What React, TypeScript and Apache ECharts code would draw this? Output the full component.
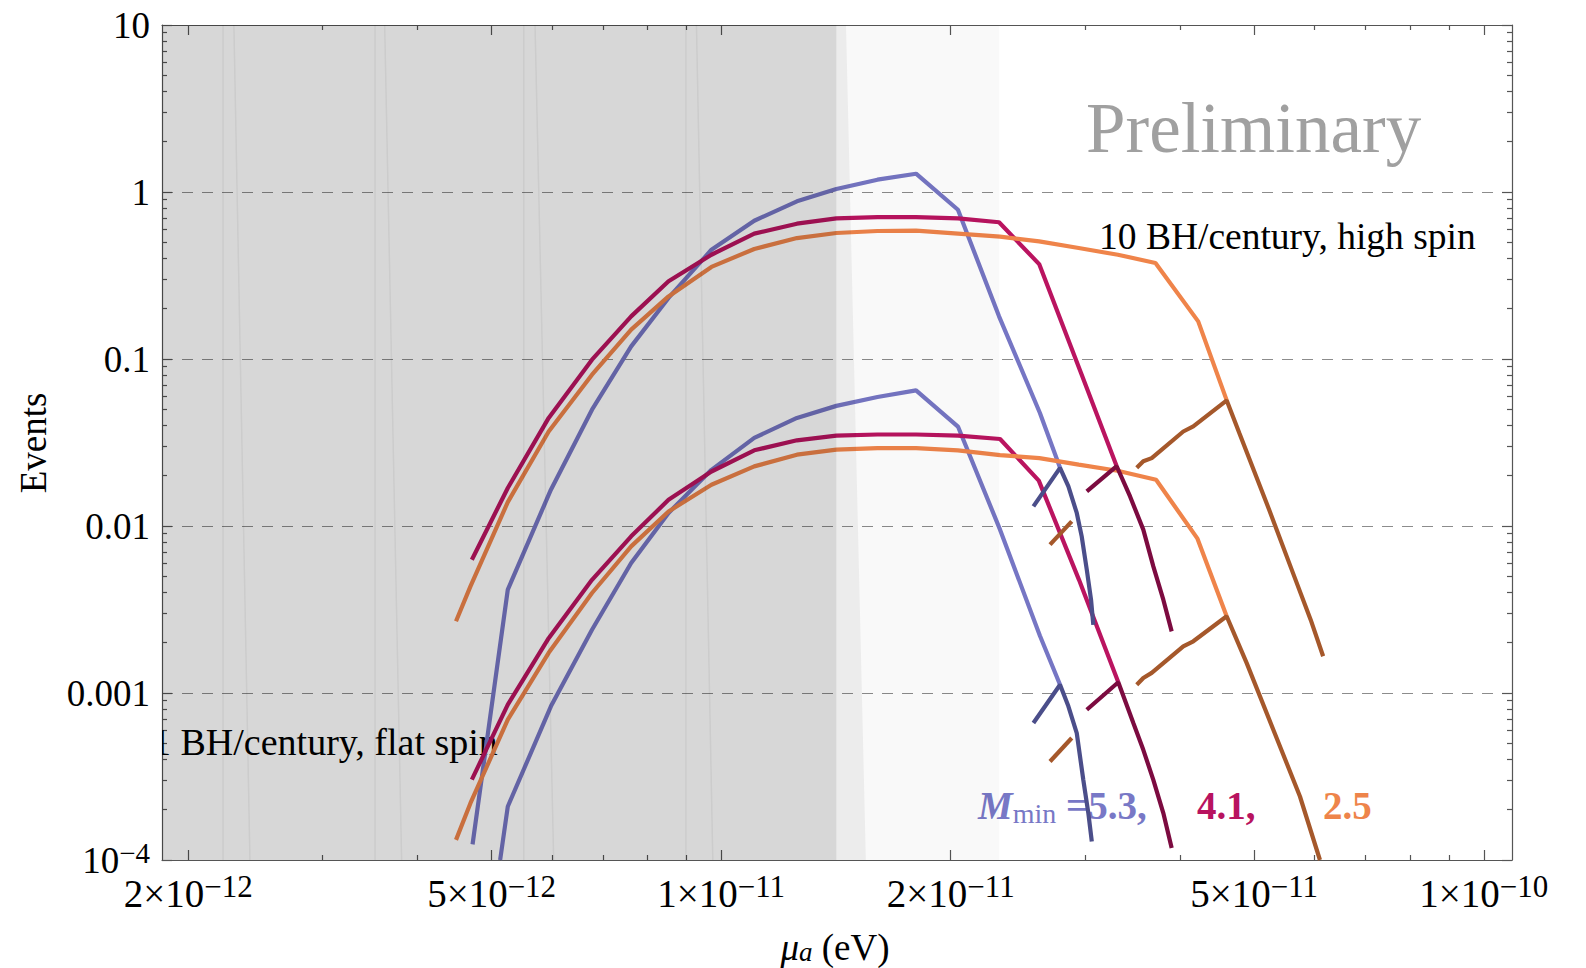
import React, { useEffect, useRef } from "react";
import * as echarts from "echarts";

const FONT = '"Liberation Serif", "Times New Roman", serif';

// ---- axes (eV, events) ----
const xRange = [1.848e-12, 1.089e-10];
const yRange = [1e-4, 10];
const xMajorTicks = [2e-12, 5e-12, 1e-11, 2e-11, 5e-11, 1e-10];
const xMinorTicks = [3e-12, 4e-12, 6e-12, 7e-12, 8e-12, 9e-12, 3e-11, 4e-11, 6e-11, 7e-11, 8e-11, 9e-11];
const yMinorTicks = [
  2e-4, 3e-4, 4e-4, 5e-4, 6e-4, 7e-4, 8e-4, 9e-4,
  2e-3, 3e-3, 4e-3, 5e-3, 6e-3, 7e-3, 8e-3, 9e-3,
  2e-2, 3e-2, 4e-2, 5e-2, 6e-2, 7e-2, 8e-2, 9e-2,
  0.2, 0.3, 0.4, 0.5, 0.6, 0.7, 0.8, 0.9,
  2, 3, 4, 5, 6, 7, 8, 9,
];
const yTickLabels: Record<string, string> = {
  "1": "{n|10}",
  "0": "{n|1}",
  "-1": "{n|0.1}",
  "-2": "{n|0.01}",
  "-3": "{n|0.001}",
  "-4": "{n|10}{sup|\u22124}",
};

// ---- shaded (excluded) regions, in eV ----
const darkRegionEdge = 1.416e-11;
const bandEdgeTop = 1.458e-11;
const bandEdgeBottom = 1.548e-11;
const lightRegionEdge = 2.316e-11;
const seamStraight = [2.222e-12, 3.516e-12, 5.51e-12, 8.99e-12];
const seamSlantTop = [2.296e-12, 3.62e-12, 5.7e-12, 9.28e-12];
const seamSlantBottom = [2.41e-12, 3.81e-12, 6.03e-12, 9.75e-12];

// ---- curves: [mu_a (eV), events] ----
// 10 BH/century, high spin
const highBlue = [
  [4.72e-12, 1.24e-4], [5.25e-12, 4.16e-3], [5.98e-12, 0.0165], [6.77e-12, 0.0497], [7.62e-12, 0.119],
  [8.53e-12, 0.232], [9.71e-12, 0.451], [1.105e-11, 0.673], [1.257e-11, 0.879], [1.416e-11, 1.042],
  [1.603e-11, 1.185], [1.801e-11, 1.287], [2.044e-11, 0.783], [2.314e-11, 0.18], [2.618e-11, 0.0475],
  [2.782e-11, 0.0223],
];
const highBlueDark = [
  [2.567e-11, 0.0131], [2.782e-11, 0.0223], [2.853e-11, 0.01726], [2.926e-11, 0.01197],
  [2.97e-11, 0.00867], [3.016e-11, 0.00547], [3.055e-11, 0.00362], [3.076e-11, 0.00256],
];
const highMagenta = [
  [4.71e-12, 0.00628], [5.25e-12, 0.0169], [5.94e-12, 0.0444], [6.77e-12, 0.0991], [7.62e-12, 0.18],
  [8.53e-12, 0.292], [9.71e-12, 0.421], [1.105e-11, 0.563], [1.257e-11, 0.646], [1.416e-11, 0.695],
  [1.603e-11, 0.708], [1.801e-11, 0.708], [2.044e-11, 0.695], [2.314e-11, 0.659], [2.612e-11, 0.37],
  [2.964e-11, 0.0824], [3.301e-11, 0.0228],
];
const highMagentaDark = [
  [3.016e-11, 0.0161], [3.301e-11, 0.0228], [3.437e-11, 0.01503], [3.577e-11, 0.00951],
  [3.687e-11, 0.00573], [3.8e-11, 0.00362], [3.897e-11, 0.00234],
];
const highOrange = [
  [4.49e-12, 0.00269], [4.69e-12, 0.00435], [5.25e-12, 0.0139], [5.94e-12, 0.0368], [6.77e-12, 0.0805],
  [7.62e-12, 0.15], [8.53e-12, 0.237], [9.71e-12, 0.356], [1.105e-11, 0.456], [1.257e-11, 0.53],
  [1.416e-11, 0.568], [1.603e-11, 0.584], [1.801e-11, 0.587], [2.044e-11, 0.563], [2.321e-11, 0.54],
  [2.612e-11, 0.506], [2.943e-11, 0.462], [3.313e-11, 0.421], [3.711e-11, 0.376], [4.222e-11, 0.168],
  [4.602e-11, 0.0565],
];
const highOrangeDarkStub = [[2.699e-11, 0.00773], [2.882e-11, 0.01065]];
const highOrangeDark = [
  [3.507e-11, 0.0223], [3.577e-11, 0.0244], [3.669e-11, 0.0255], [4.036e-11, 0.0368], [4.16e-11, 0.0395],
  [4.602e-11, 0.0565], [4.78e-11, 0.0361], [5.211e-11, 0.0131], [5.62e-11, 0.00524], [5.929e-11, 0.00275],
  [6.157e-11, 0.00166],
];
// flat spin
const lowBlue = [
  [5.13e-12, 1.0e-4], [5.25e-12, 2.09e-4], [5.98e-12, 8.32e-4], [6.77e-12, 2.39e-3], [7.62e-12, 6.0e-3],
  [8.53e-12, 0.01197], [9.71e-12, 0.0217], [1.105e-11, 0.0337], [1.257e-11, 0.0444], [1.416e-11, 0.0524],
  [1.603e-11, 0.0592], [1.801e-11, 0.0649], [2.044e-11, 0.0394], [2.321e-11, 0.00951], [2.618e-11, 0.0022],
  [2.782e-11, 0.00112],
];
const lowBlueDark = [
  [2.567e-11, 6.61e-4], [2.782e-11, 1.12e-3], [2.853e-11, 8.32e-4], [2.926e-11, 5.75e-4],
  [2.984e-11, 3.03e-4], [3.03e-11, 1.91e-4], [3.062e-11, 1.29e-4],
];
const lowMagenta = [
  [4.71e-12, 3.03e-4], [5.25e-12, 8.51e-4], [5.94e-12, 2.13e-3], [6.77e-12, 4.76e-3], [7.62e-12, 8.67e-3],
  [8.53e-12, 0.01435], [9.71e-12, 0.0212], [1.105e-11, 0.0284], [1.257e-11, 0.0326], [1.416e-11, 0.0348],
  [1.603e-11, 0.0353], [1.801e-11, 0.0353], [2.044e-11, 0.0348], [2.321e-11, 0.0332], [2.609e-11, 0.0187],
  [2.946e-11, 0.00476], [3.317e-11, 0.00116],
];
const lowMagentaDark = [
  [3.016e-11, 7.94e-4], [3.317e-11, 1.16e-3], [3.471e-11, 6.61e-4], [3.577e-11, 4.57e-4],
  [3.687e-11, 3.02e-4], [3.8e-11, 1.91e-4], [3.897e-11, 1.18e-4],
];
const lowOrange = [
  [4.49e-12, 1.32e-4], [4.69e-12, 2.19e-4], [5.25e-12, 6.92e-4], [5.94e-12, 1.74e-3], [6.77e-12, 3.97e-3],
  [7.62e-12, 7.55e-3], [8.53e-12, 0.01222], [9.71e-12, 0.01766], [1.105e-11, 0.02275], [1.257e-11, 0.02673],
  [1.416e-11, 0.02864], [1.603e-11, 0.0293], [1.801e-11, 0.0293], [2.044e-11, 0.0284], [2.321e-11, 0.0266],
  [2.614e-11, 0.0255], [2.943e-11, 0.0233], [3.309e-11, 0.02143], [3.718e-11, 0.01892], [4.213e-11, 0.0084],
  [4.601e-11, 0.00288],
];
const lowOrangeDarkStub = [[2.699e-11, 3.89e-4], [2.882e-11, 5.38e-4]];
const lowOrangeDark = [
  [3.507e-11, 1.12e-3], [3.577e-11, 1.23e-3], [3.669e-11, 1.32e-3], [4.036e-11, 1.9e-3], [4.16e-11, 2.04e-3],
  [4.601e-11, 2.88e-3], [4.888e-11, 1.51e-3], [5.297e-11, 6.03e-4], [5.741e-11, 2.4e-4], [6.098e-11, 1.0e-4],
];

const C_BLUE = "#7676c4";
const C_NAVY = "#4b4e8a";
const C_MAG = "#ba1460";
const C_MAROON = "#7c0b40";
const C_ORANGE = "#ef844a";
const C_BROWN = "#a5582b";

const curves = [
  { data: highBlue, color: C_BLUE },
  { data: highMagenta, color: C_MAG },
  { data: highOrange, color: C_ORANGE },
  { data: lowBlue, color: C_BLUE },
  { data: lowMagenta, color: C_MAG },
  { data: lowOrange, color: C_ORANGE },
  { data: highBlueDark, color: C_NAVY },
  { data: highMagentaDark, color: C_MAROON },
  { data: highOrangeDarkStub, color: C_BROWN },
  { data: highOrangeDark, color: C_BROWN },
  { data: lowBlueDark, color: C_NAVY },
  { data: lowMagentaDark, color: C_MAROON },
  { data: lowOrangeDarkStub, color: C_BROWN },
  { data: lowOrangeDark, color: C_BROWN },
];

const lg = Math.log10;
const FRAME = "#555555";

const tickRich = {
  n: { fontFamily: FONT, fontSize: 39, color: "#000", lineHeight: 44 },
  sup: { fontFamily: FONT, fontSize: 31, color: "#000", lineHeight: 28, verticalAlign: "top" },
};

function makeXAxis(position: string, major: boolean, labels: boolean) {
  return {
    type: "value",
    position,
    min: lg(xRange[0]),
    max: lg(xRange[1]),
    axisLine: { show: major, onZero: false, lineStyle: { color: FRAME, width: 1.2 } },
    axisTick: {
      show: true,
      inside: true,
      length: major ? 10 : 5,
      customValues: (major ? xMajorTicks : xMinorTicks).map(lg),
      lineStyle: { color: FRAME, width: 1.2 },
    },
    axisLabel: labels
      ? {
          show: true,
          customValues: xMajorTicks.map(lg),
          margin: 11,
          color: "#000",
          fontFamily: FONT,
          fontSize: 39,
          formatter: (v: number) => {
            const e = Math.floor(v + 1e-6);
            const m = Math.round(Math.pow(10, v - e));
            return `{n|${m}\u00d710}{sup|\u2212${Math.abs(e)}}`;
          },
          rich: tickRich,
        }
      : { show: false },
    splitLine: { show: false },
  };
}

function makeYAxis(position: string, major: boolean, labels: boolean) {
  return {
    type: "value",
    position,
    min: lg(yRange[0]),
    max: lg(yRange[1]),
    interval: 1,
    axisLine: { show: major, onZero: false, lineStyle: { color: FRAME, width: 1.2 } },
    axisTick: major
      ? { show: true, inside: true, length: 10, lineStyle: { color: FRAME, width: 1.2 } }
      : { show: true, inside: true, length: 5, customValues: yMinorTicks.map(lg), lineStyle: { color: FRAME, width: 1.2 } },
    axisLabel: labels
      ? {
          show: true,
          margin: 12,
          color: "#000",
          fontFamily: FONT,
          fontSize: 37,
          formatter: (v: number) => yTickLabels[String(Math.round(v))] || "",
          rich: {
            n: { fontFamily: FONT, fontSize: 37, color: "#000", lineHeight: 44 },
            sup: { fontFamily: FONT, fontSize: 29, color: "#000", lineHeight: 28, verticalAlign: "top" },
          },
        }
      : { show: false },
    splitLine: labels
      ? { show: true, showMinLine: false, showMaxLine: false, lineStyle: { color: "#8c8c8c", width: 1, type: [11, 9] } }
      : { show: false },
  };
}

export default function App() {
  const ref = useRef<HTMLDivElement>(null);

  useEffect(() => {
    if (!ref.current) return;
    const chart = echarts.init(ref.current, undefined, { renderer: "svg" });

    const lineSeries = curves.map((c) => ({
      type: "line",
      xAxisIndex: 0,
      yAxisIndex: 0,
      data: c.data.map(([m, e]) => [lg(m), lg(e)]),
      showSymbol: false,
      symbol: "none",
      silent: true,
      clip: true,
      z: 3,
      lineStyle: { color: c.color, width: 4.2 },
      itemStyle: { color: c.color },
      emphasis: { disabled: true },
    }));

    const regions = [
      {
        pts: [[xRange[0], yRange[1]], [darkRegionEdge, yRange[1]], [darkRegionEdge, yRange[0]], [xRange[0], yRange[0]]],
        fill: "rgba(0,0,0,0.157)",
      },
      {
        pts: [[darkRegionEdge, yRange[1]], [bandEdgeTop, yRange[1]], [bandEdgeBottom, yRange[0]], [darkRegionEdge, yRange[0]]],
        fill: "rgba(0,0,0,0.075)",
      },
      {
        pts: [[bandEdgeTop, yRange[1]], [lightRegionEdge, yRange[1]], [lightRegionEdge, yRange[0]], [bandEdgeBottom, yRange[0]]],
        fill: "rgba(0,0,0,0.022)",
      },
    ];

    const shadeSeries = {
      type: "custom",
      xAxisIndex: 0,
      yAxisIndex: 0,
      clip: true,
      silent: true,
      z: 5,
      data: [[-11, -1]],
      renderItem: (_p: any, api: any) => {
        const c = (m: number, e: number) => api.coord([lg(m), lg(e)]);
        const children: any[] = regions.map((r) => ({
          type: "polygon",
          shape: { points: r.pts.map((p) => c(p[0], p[1])) },
          style: { fill: r.fill },
        }));
        seamStraight.forEach((s) => {
          const a = c(s, yRange[1]);
          const b = c(s, yRange[0]);
          children.push({ type: "line", shape: { x1: a[0], y1: a[1], x2: b[0], y2: b[1] }, style: { stroke: "rgba(0,0,0,0.05)", lineWidth: 1.5 } });
        });
        seamSlantTop.forEach((s, i) => {
          const a = c(s, yRange[1]);
          const b = c(seamSlantBottom[i], yRange[0]);
          children.push({ type: "line", shape: { x1: a[0], y1: a[1], x2: b[0], y2: b[1] }, style: { stroke: "rgba(0,0,0,0.05)", lineWidth: 1.5 } });
        });
        return { type: "group", children };
      },
    };

    const flatSpinLabel = {
      type: "custom",
      xAxisIndex: 0,
      yAxisIndex: 0,
      clip: true,
      silent: true,
      z: 1,
      data: [[-11, -1]],
      renderItem: () => ({
        type: "text",
        x: 152,
        y: 742,
        style: {
          text: "1 BH/century, flat spin",
          fontFamily: FONT,
          fontSize: 38,
          fill: "#000",
          align: "left",
          verticalAlign: "middle",
        },
      }),
    };

    const option: any = {
      animation: false,
      backgroundColor: "#ffffff",
      grid: { left: 162, right: 74, top: 25, bottom: 108, containLabel: false, outerBoundsMode: "none" },
      xAxis: [
        makeXAxis("bottom", true, true),
        makeXAxis("bottom", false, false),
        makeXAxis("top", true, false),
        makeXAxis("top", false, false),
      ],
      yAxis: [
        makeYAxis("left", true, true),
        makeYAxis("left", false, false),
        makeYAxis("right", true, false),
        makeYAxis("right", false, false),
      ],
      graphic: {
        elements: [
          {
            type: "text",
            x: 1086,
            y: 128,
            z: 1,
            silent: true,
            style: { text: "Preliminary", fontFamily: FONT, fontSize: 71, fill: "#a0a0a0", align: "left", verticalAlign: "middle" },
          },
          {
            type: "text",
            x: 1099,
            y: 236,
            z: 1,
            silent: true,
            style: { text: "10 BH/century, high spin", fontFamily: FONT, fontSize: 37.5, fill: "#000", align: "left", verticalAlign: "middle" },
          },
          {
            type: "text",
            x: 978,
            y: 805,
            z: 1,
            silent: true,
            style: {
              text: "{m|M}{s|min}{b| =5.3,}",
              align: "left",
              verticalAlign: "middle",
              rich: {
                m: { fontFamily: FONT, fontSize: 39, fontStyle: "italic", fontWeight: "bold", fill: "#7878c6", lineHeight: 44 },
                s: { fontFamily: FONT, fontSize: 28, fill: "#7878c6", lineHeight: 26, verticalAlign: "bottom" },
                b: { fontFamily: FONT, fontSize: 39, fontWeight: "bold", fill: "#7878c6", lineHeight: 44 },
              },
            },
          },
          {
            type: "text",
            x: 1197,
            y: 805,
            z: 1,
            silent: true,
            style: { text: "4.1,", fontFamily: FONT, fontSize: 39, fontWeight: "bold", fill: "#b8135f", align: "left", verticalAlign: "middle" },
          },
          {
            type: "text",
            x: 1323,
            y: 805,
            z: 1,
            silent: true,
            style: { text: "2.5", fontFamily: FONT, fontSize: 39, fontWeight: "bold", fill: "#ee844a", align: "left", verticalAlign: "middle" },
          },
          {
            type: "text",
            x: 835,
            y: 947,
            z: 1,
            silent: true,
            style: {
              text: "{i|\u03bc}{s|a}{n| (eV)}",
              align: "center",
              verticalAlign: "middle",
              rich: {
                i: { fontFamily: FONT, fontSize: 37, fontStyle: "italic", fill: "#000", lineHeight: 36 },
                s: { fontFamily: FONT, fontSize: 27, fontStyle: "italic", fill: "#000", lineHeight: 22, verticalAlign: "bottom" },
                n: { fontFamily: FONT, fontSize: 37, fill: "#000", lineHeight: 36 },
              },
            },
          },
          {
            type: "text",
            x: 33,
            y: 443,
            rotation: Math.PI / 2,
            z: 1,
            silent: true,
            style: { text: "Events", fontFamily: FONT, fontSize: 37, fill: "#000", align: "center", verticalAlign: "middle" },
          },
        ],
      },
      series: [flatSpinLabel, ...lineSeries, shadeSeries],
    };

    chart.setOption(option);
    return () => {
      chart.dispose();
    };
  }, []);

  return (
    <div
      ref={ref}
      style={{ position: "fixed", left: 0, top: 0, width: 1586, height: 968, background: "#fff" }}
    />
  );
}
